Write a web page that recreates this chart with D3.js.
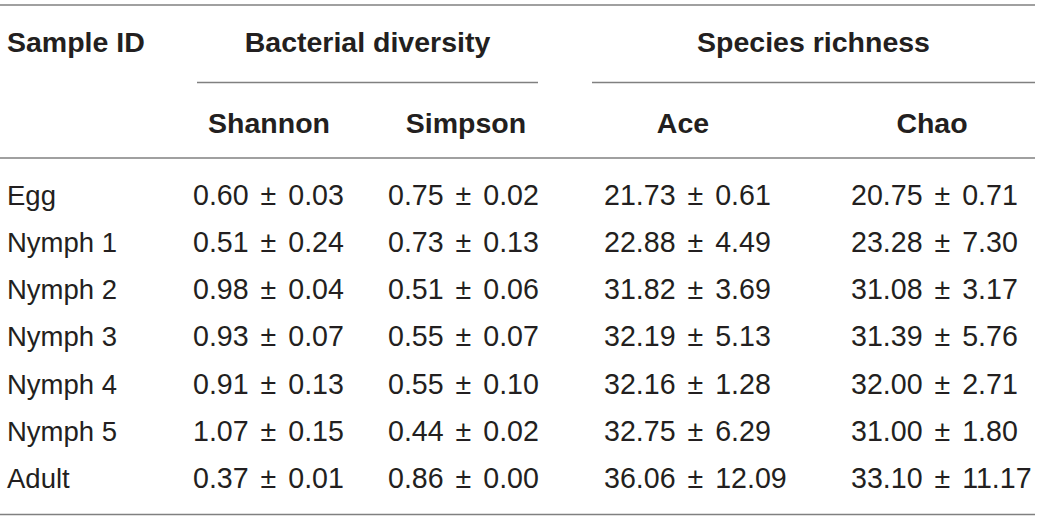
<!DOCTYPE html>
<html>
<head>
<meta charset="utf-8">
<script src="https://cdn.jsdelivr.net/npm/d3@7"></script>
<style>
    body { margin: 0; background: #fff; }
    #table text { font-family: "Liberation Sans", Arial, sans-serif; fill: #231f20; }
    #table .hd { font-weight: bold; font-size: 28.5px; }
    #table .cell { font-size: 27.5px; }
    #table .val { font-size: 28.6px; word-spacing: 4px; }
    #table line { stroke: #808080; stroke-width: 1.5; }
</style>
</head>
<body>
<div id="table"></div>
<script>
// table values
const sampleIds = ["Egg", "Nymph 1", "Nymph 2", "Nymph 3", "Nymph 4", "Nymph 5", "Adult"];
const shannonMean = [0.60, 0.51, 0.98, 0.93, 0.91, 1.07, 0.37];
const shannonSd = [0.03, 0.24, 0.04, 0.07, 0.13, 0.15, 0.01];
const simpsonMean = [0.75, 0.73, 0.51, 0.55, 0.55, 0.44, 0.86];
const simpsonSd = [0.02, 0.13, 0.06, 0.07, 0.10, 0.02, 0.00];
const aceMean = [21.73, 22.88, 31.82, 32.19, 32.16, 32.75, 36.06];
const aceSd = [0.61, 4.49, 3.69, 5.13, 1.28, 6.29, 12.09];
const chaoMean = [20.75, 23.28, 31.08, 31.39, 32.00, 31.00, 33.10];
const chaoSd = [0.71, 7.30, 3.17, 5.76, 2.71, 1.80, 11.17];

const metricNames = ["Shannon", "Simpson", "Ace", "Chao"];
const groupNames = ["Bacterial diversity", "Species richness"];
const firstHeader = "Sample ID";

const width = 1040, height = 519;

let svg = d3.select("#table").append("svg")
    .attr("width", width)
    .attr("height", height);

// column + row scales
let colLeft = d3.scaleOrdinal().domain(metricNames).range([193, 388, 604, 851]);
let colCenter = d3.scaleOrdinal().domain(metricNames).range([269, 466, 683, 932]);
let groupSpan = d3.scaleOrdinal().domain(groupNames).range([[197, 538], [592, 1035]]);
let y = d3.scalePoint().domain(sampleIds).range([204.5, 488]);

// horizontal rules
[5, 158, 514.5].forEach(function(yy) {
    svg.append("line").attr("x1", 0).attr("x2", 1035).attr("y1", yy).attr("y2", yy);
});

// group headers with underline
groupNames.forEach(function(g) {
    let span = groupSpan(g);
    svg.append("line")
        .attr("x1", span[0]).attr("x2", span[1])
        .attr("y1", 82.5).attr("y2", 82.5);
    svg.append("text")
        .attr("class", "hd")
        .attr("x", (span[0] + span[1]) / 2)
        .attr("y", 52)
        .attr("text-anchor", "middle")
        .text(g);
});

svg.append("text")
    .attr("class", "hd")
    .attr("x", 7)
    .attr("y", 52)
    .text(firstHeader);

svg.selectAll(".sub")
    .data(metricNames)
    .enter()
    .append("text")
    .attr("class", "hd sub")
    .attr("x", d => colCenter(d))
    .attr("y", 133)
    .attr("text-anchor", "middle")
    .text(d => d);

// body
let rows = sampleIds.map(function(id, i) {
    return {
        id: id,
        values: [
            [shannonMean[i], shannonSd[i]],
            [simpsonMean[i], simpsonSd[i]],
            [aceMean[i], aceSd[i]],
            [chaoMean[i], chaoSd[i]]
        ]
    };
});

let rowG = svg.selectAll(".row")
    .data(rows)
    .enter()
    .append("g")
    .attr("class", "row")
    .attr("transform", d => "translate(0," + y(d.id) + ")");

rowG.append("text")
    .attr("class", "cell")
    .attr("x", 7)
    .text(d => d.id);

rowG.selectAll(".val")
    .data(d => d.values)
    .enter()
    .append("text")
    .attr("class", "cell val")
    .attr("x", (d, j) => colLeft(metricNames[j]))
    .text(d => d[0].toFixed(2) + " \u00b1 " + d[1].toFixed(2));
</script>
</body>
</html>
